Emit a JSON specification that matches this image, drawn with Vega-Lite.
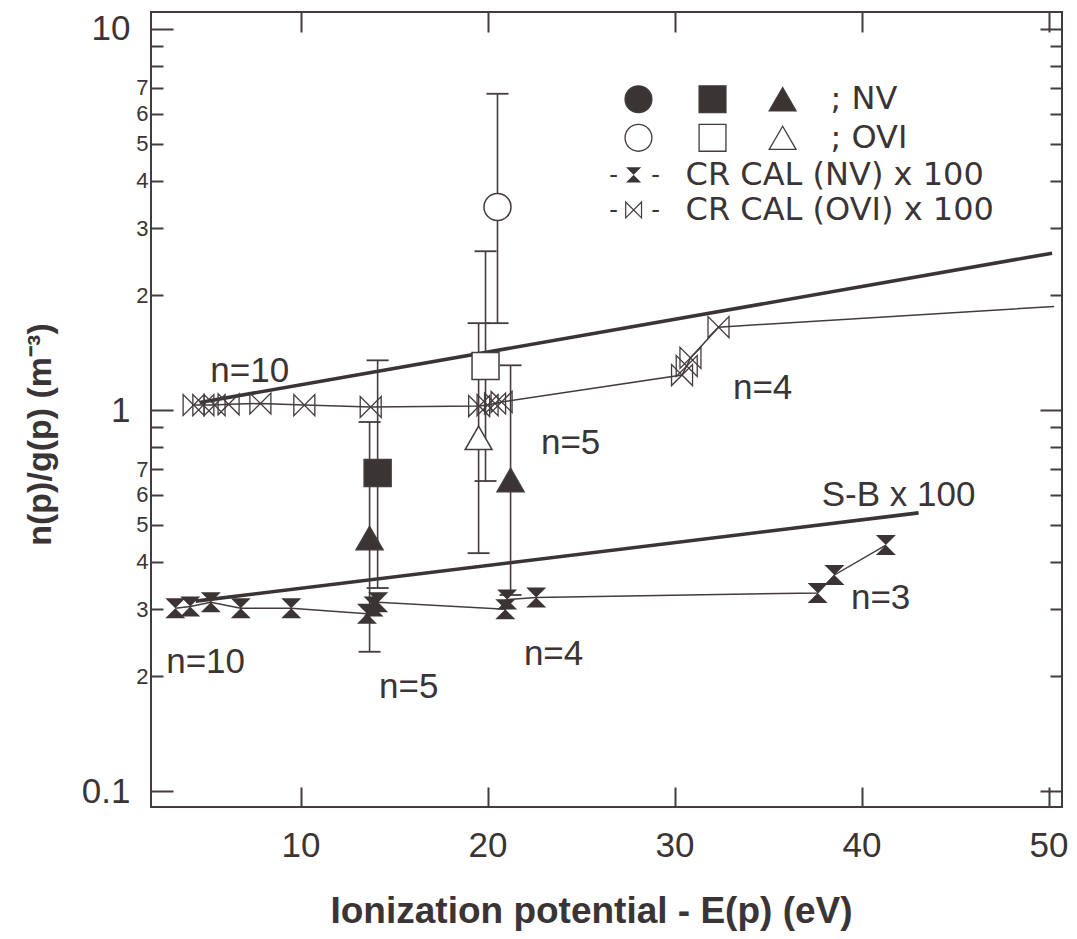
{
  "$schema": "https://vega.github.io/schema/vega-lite/v6.json",
  "width": 911,
  "height": 795,
  "autosize": {"type": "none"},
  "padding": {"left": 151, "top": 12, "right": 15, "bottom": 132},
  "background": "white",
  "config": {
    "view": {"stroke": "#433b3c", "strokeWidth": 2},
    "axis": {"domain": false, "grid": false, "tickColor": "#433b3c", "tickWidth": 2, "labelColor": "#3b3435", "titleColor": "#3b3435", "labelFont": "Liberation Sans", "titleFont": "Liberation Sans", "labelOverlap": false, "labelBound": false, "labelFlush": false},
    "text": {"font": "Liberation Sans", "color": "#3b3435"}
  },
  "datasets": {
    "cr_nv": [
      {"x": 3.3, "y": 0.302}, {"x": 4.1, "y": 0.305}, {"x": 5.2, "y": 0.313}, {"x": 6.8, "y": 0.302},
      {"x": 9.5, "y": 0.302}, {"x": 13.55, "y": 0.292}, {"x": 13.9, "y": 0.305}, {"x": 14.15, "y": 0.313},
      {"x": 20.95, "y": 0.300}, {"x": 21.05, "y": 0.318}, {"x": 22.6, "y": 0.322}, {"x": 37.65, "y": 0.331},
      {"x": 38.55, "y": 0.369}, {"x": 41.3, "y": 0.442}
    ],
    "cr_ovi": [
      {"x": 4.28, "y": 1.031}, {"x": 4.8, "y": 1.03}, {"x": 5.4, "y": 1.03}, {"x": 6.15, "y": 1.035},
      {"x": 7.85, "y": 1.04}, {"x": 10.2, "y": 1.03}, {"x": 13.75, "y": 1.018}, {"x": 19.55, "y": 1.024},
      {"x": 20.0, "y": 1.03}, {"x": 20.4, "y": 1.04}, {"x": 20.75, "y": 1.05}, {"x": 30.4, "y": 1.235},
      {"x": 30.65, "y": 1.305}, {"x": 30.85, "y": 1.37}, {"x": 32.35, "y": 1.65}, {"x": 50.3, "y": 1.87}
    ],
    "theory": [
      {"curve": "upper", "x": 4.6, "y": 1.046}, {"curve": "upper", "x": 50.19, "y": 2.58},
      {"curve": "SB", "x": 4.39, "y": 0.315}, {"curve": "SB", "x": 43.05, "y": 0.537}
    ],
    "exp": [
      {"series": "NV", "kind": "square", "x": 14.12, "y": 0.683, "lo": 0.341, "hi": 1.35},
      {"series": "NV", "kind": "triangle", "x": 13.69, "y": 0.461, "lo": 0.232, "hi": 0.93},
      {"series": "NV", "kind": "triangle", "x": 21.23, "y": 0.655, "lo": 0.327, "hi": 1.31},
      {"series": "OVI", "kind": "circle", "x": 20.53, "y": 3.41, "lo": 1.69, "hi": 6.76},
      {"series": "OVI", "kind": "square", "x": 19.89, "y": 1.305, "lo": 0.651, "hi": 2.61},
      {"series": "OVI", "kind": "triangle", "x": 19.52, "y": 0.845, "lo": 0.421, "hi": 1.69}
    ],
    "legend_sym": [
      {"series": "NV", "kind": "circle", "x": 28.07, "y": 6.54},
      {"series": "NV", "kind": "square", "x": 32.03, "y": 6.54},
      {"series": "NV", "kind": "triangle", "x": 35.78, "y": 6.54},
      {"series": "OVI", "kind": "circle", "x": 28.07, "y": 5.18},
      {"series": "OVI", "kind": "square", "x": 32.03, "y": 5.18},
      {"series": "OVI", "kind": "triangle", "x": 35.78, "y": 5.18}
    ],
    "legend_text": [
      {"x": 38.34, "y": 6.54, "t": "; NV"},
      {"x": 38.34, "y": 5.18, "t": "; OVI"},
      {"x": 30.59, "y": 4.14, "t": "CR CAL (NV) x 100"},
      {"x": 30.59, "y": 3.35, "t": "CR CAL (OVI) x 100"}
    ],
    "dashes": [
      {"x": 26.74, "y": 4.14, "t": "-"},
      {"x": 28.98, "y": 4.14, "t": "-"},
      {"x": 26.74, "y": 3.35, "t": "-"},
      {"x": 28.98, "y": 3.35, "t": "-"}
    ],
    "notes": [
      {"x": 7.28, "y": 1.266, "t": "n=10"},
      {"x": 4.92, "y": 0.218, "t": "n=10"},
      {"x": 15.78, "y": 0.187, "t": "n=5"},
      {"x": 23.53, "y": 0.229, "t": "n=4"},
      {"x": 24.44, "y": 0.819, "t": "n=5"},
      {"x": 34.71, "y": 1.142, "t": "n=4"},
      {"x": 41.02, "y": 0.321, "t": "n=3"},
      {"x": 41.98, "y": 0.598, "t": "S-B x 100"}
    ]
  },
  "resolve": {"axis": {"x": "independent", "y": "independent"}},
  "layer": [
    {
      "data": {"name": "cr_nv"},
      "mark": {"type": "line", "color": "#433b3c", "strokeWidth": 1.5},
      "encoding": {
        "x": {"field": "x", "type": "quantitative", "scale": {"type": "linear", "domain": [2, 50.72], "nice": false, "zero": false},
          "axis": {"orient": "bottom", "values": [10, 20, 30, 40, 50], "tickSize": -20, "labelFontSize": 35, "labelPadding": 41,
            "title": "Ionization potential - E(p) (eV)", "titleFontSize": 37, "titleFontWeight": "bold", "titleX": 440, "titleY": 104, "titleBaseline": "middle"}},
        "y": {"field": "y", "type": "quantitative", "scale": {"type": "log", "domain": [0.0908, 11.08], "nice": false},
          "axis": {"orient": "left",
            "values": [0.1, 0.2, 0.3, 0.4, 0.5, 0.6, 0.7, 0.8, 0.9, 1, 2, 3, 4, 5, 6, 7, 8, 9, 10],
            "tickSize": {"condition": {"test": "datum.value >= 9.99 || (datum.value > 0.99 && datum.value < 1.01) || datum.value < 0.101", "value": -22}, "value": -12},
            "labelFontSize": {"condition": {"test": "datum.value >= 9.99 || (datum.value > 0.99 && datum.value < 1.01) || datum.value < 0.101", "value": 35}, "value": 22},
            "labelPadding": {"condition": {"test": "datum.value >= 9.99 || (datum.value > 0.99 && datum.value < 1.01) || datum.value < 0.101", "value": 43}, "value": 15},
            "labelBaseline": "middle",
            "labelExpr": "datum.value >= 9.99 ? '10' : (datum.value > 0.99 && datum.value < 1.01) ? '1' : datum.value < 0.101 ? '0.1' : (round(datum.value / pow(10, floor(log(datum.value) / LN10 + 1e-9))) <= 7 ? '' + round(datum.value / pow(10, floor(log(datum.value) / LN10 + 1e-9))) : '')",
            "title": "n(p)/g(p) (m⁻³)", "titleFontSize": 34, "titleFontWeight": "bold", "titleX": -111, "titleY": 422, "titleBaseline": "middle", "titleAngle": -90}}
      }
    },
    {
      "data": {"name": "cr_nv"},
      "mark": {"type": "point", "opacity": 0},
      "encoding": {
        "x": {"field": "x", "type": "quantitative", "scale": {"type": "linear", "domain": [2, 50.72], "nice": false, "zero": false},
          "axis": {"orient": "top", "values": [10, 20, 30, 40, 50], "tickSize": -20, "labels": false, "title": null}},
        "y": {"field": "y", "type": "quantitative", "scale": {"type": "log", "domain": [0.0908, 11.08], "nice": false},
          "axis": {"orient": "right",
            "values": [0.1, 0.2, 0.3, 0.4, 0.5, 0.6, 0.7, 0.8, 0.9, 1, 2, 3, 4, 5, 6, 7, 8, 9, 10],
            "tickSize": {"condition": {"test": "datum.value >= 9.99 || (datum.value > 0.99 && datum.value < 1.01) || datum.value < 0.101", "value": -22}, "value": -12},
            "labels": false, "title": null}}
      }
    },
    {
      "data": {"name": "cr_ovi"},
      "mark": {"type": "line", "color": "#433b3c", "strokeWidth": 1.5},
      "encoding": {
        "x": {"field": "x", "type": "quantitative", "scale": {"type": "linear", "domain": [2, 50.72], "nice": false, "zero": false}, "axis": null},
        "y": {"field": "y", "type": "quantitative", "scale": {"type": "log", "domain": [0.0908, 11.08], "nice": false}, "axis": null}
      }
    },
    {
      "data": {"name": "theory"},
      "mark": {"type": "line", "color": "#3b3435", "strokeWidth": 3.6},
      "encoding": {
        "x": {"field": "x", "type": "quantitative", "scale": {"type": "linear", "domain": [2, 50.72], "nice": false, "zero": false}, "axis": null},
        "y": {"field": "y", "type": "quantitative", "scale": {"type": "log", "domain": [0.0908, 11.08], "nice": false}, "axis": null},
        "detail": {"field": "curve"}
      }
    },
    {
      "data": {"name": "exp"},
      "mark": {"type": "rule", "color": "#433b3c", "strokeWidth": 1.6},
      "encoding": {
        "x": {"field": "x", "type": "quantitative", "scale": {"type": "linear", "domain": [2, 50.72], "nice": false, "zero": false}, "axis": null},
        "y": {"field": "lo", "type": "quantitative", "scale": {"type": "log", "domain": [0.0908, 11.08], "nice": false}, "axis": null},
        "y2": {"field": "hi"}
      }
    },
    {
      "data": {"name": "exp"},
      "mark": {"type": "tick", "orient": "horizontal", "color": "#433b3c", "size": 22, "thickness": 1.8, "opacity": 1},
      "encoding": {
        "x": {"field": "x", "type": "quantitative", "scale": {"type": "linear", "domain": [2, 50.72], "nice": false, "zero": false}, "axis": null},
        "y": {"field": "lo", "type": "quantitative", "scale": {"type": "log", "domain": [0.0908, 11.08], "nice": false}, "axis": null}
      }
    },
    {
      "data": {"name": "exp"},
      "mark": {"type": "tick", "orient": "horizontal", "color": "#433b3c", "size": 22, "thickness": 1.8, "opacity": 1},
      "encoding": {
        "x": {"field": "x", "type": "quantitative", "scale": {"type": "linear", "domain": [2, 50.72], "nice": false, "zero": false}, "axis": null},
        "y": {"field": "hi", "type": "quantitative", "scale": {"type": "log", "domain": [0.0908, 11.08], "nice": false}, "axis": null}
      }
    },
    {
      "data": {"name": "cr_nv"},
      "mark": {"type": "point", "shape": "M-1,-1L1,-1L-1,1L1,1Z", "filled": true, "color": "#3b3435", "size": 400, "opacity": 1},
      "encoding": {
        "x": {"field": "x", "type": "quantitative", "scale": {"type": "linear", "domain": [2, 50.72], "nice": false, "zero": false}, "axis": null},
        "y": {"field": "y", "type": "quantitative", "scale": {"type": "log", "domain": [0.0908, 11.08], "nice": false}, "axis": null}
      }
    },
    {
      "data": {"name": "cr_ovi"},
      "transform": [{"filter": "datum.x < 50"}],
      "mark": {"type": "point", "shape": "M-1,-1L-1,1L1,-1L1,1Z", "filled": false, "color": "#433b3c", "strokeWidth": 1.3, "size": 441, "opacity": 1},
      "encoding": {
        "x": {"field": "x", "type": "quantitative", "scale": {"type": "linear", "domain": [2, 50.72], "nice": false, "zero": false}, "axis": null},
        "y": {"field": "y", "type": "quantitative", "scale": {"type": "log", "domain": [0.0908, 11.08], "nice": false}, "axis": null}
      }
    },
    {
      "data": {"name": "exp"},
      "mark": {"type": "point", "filled": true, "stroke": "#433b3c", "strokeWidth": 1.5, "opacity": 1},
      "encoding": {
        "x": {"field": "x", "type": "quantitative", "scale": {"type": "linear", "domain": [2, 50.72], "nice": false, "zero": false}, "axis": null},
        "y": {"field": "y", "type": "quantitative", "scale": {"type": "log", "domain": [0.0908, 11.08], "nice": false}, "axis": null},
        "shape": {"field": "kind", "type": "nominal", "scale": {"domain": ["circle", "square", "triangle"], "range": ["circle", "square", "triangle-up"]}, "legend": null},
        "fill": {"field": "series", "type": "nominal", "scale": {"domain": ["NV", "OVI"], "range": ["#3b3435", "white"]}, "legend": null},
        "size": {"field": "kind", "type": "nominal", "scale": {"domain": ["circle", "square", "triangle"], "range": [730, 720, 660]}, "legend": null}
      }
    },
    {
      "data": {"name": "legend_sym"},
      "mark": {"type": "point", "filled": true, "stroke": "#433b3c", "strokeWidth": 1.3, "opacity": 1},
      "encoding": {
        "x": {"field": "x", "type": "quantitative", "scale": {"type": "linear", "domain": [2, 50.72], "nice": false, "zero": false}, "axis": null},
        "y": {"field": "y", "type": "quantitative", "scale": {"type": "log", "domain": [0.0908, 11.08], "nice": false}, "axis": null},
        "shape": {"field": "kind", "type": "nominal", "scale": {"domain": ["circle", "square", "triangle"], "range": ["circle", "square", "triangle-up"]}, "legend": null},
        "fill": {"field": "series", "type": "nominal", "scale": {"domain": ["NV", "OVI"], "range": ["#3b3435", "white"]}, "legend": null},
        "size": {"field": "series", "type": "nominal", "scale": {"domain": ["NV", "OVI"], "range": [500, 330]}, "legend": null}
      }
    },
    {
      "data": {"values": [{"x": 27.81, "y": 4.14}]},
      "mark": {"type": "point", "shape": "M-1,-1L1,-1L-1,1L1,1Z", "filled": true, "color": "#3b3435", "size": 230, "opacity": 1},
      "encoding": {
        "x": {"field": "x", "type": "quantitative", "scale": {"type": "linear", "domain": [2, 50.72], "nice": false, "zero": false}, "axis": null},
        "y": {"field": "y", "type": "quantitative", "scale": {"type": "log", "domain": [0.0908, 11.08], "nice": false}, "axis": null}
      }
    },
    {
      "data": {"values": [{"x": 27.81, "y": 3.35}]},
      "mark": {"type": "point", "shape": "M-1,-1L-1,1L1,-1L1,1Z", "filled": false, "color": "#433b3c", "strokeWidth": 1.2, "size": 250, "opacity": 1},
      "encoding": {
        "x": {"field": "x", "type": "quantitative", "scale": {"type": "linear", "domain": [2, 50.72], "nice": false, "zero": false}, "axis": null},
        "y": {"field": "y", "type": "quantitative", "scale": {"type": "log", "domain": [0.0908, 11.08], "nice": false}, "axis": null}
      }
    },
    {
      "data": {"name": "legend_text"},
      "mark": {"type": "text", "align": "left", "baseline": "middle", "fontSize": 32, "font": "DejaVu Sans"},
      "encoding": {
        "x": {"field": "x", "type": "quantitative", "scale": {"type": "linear", "domain": [2, 50.72], "nice": false, "zero": false}, "axis": null},
        "y": {"field": "y", "type": "quantitative", "scale": {"type": "log", "domain": [0.0908, 11.08], "nice": false}, "axis": null},
        "text": {"field": "t"}
      }
    },
    {
      "data": {"name": "dashes"},
      "mark": {"type": "text", "align": "center", "baseline": "middle", "fontSize": 26},
      "encoding": {
        "x": {"field": "x", "type": "quantitative", "scale": {"type": "linear", "domain": [2, 50.72], "nice": false, "zero": false}, "axis": null},
        "y": {"field": "y", "type": "quantitative", "scale": {"type": "log", "domain": [0.0908, 11.08], "nice": false}, "axis": null},
        "text": {"field": "t"}
      }
    },
    {
      "data": {"name": "notes"},
      "mark": {"type": "text", "align": "center", "baseline": "middle", "fontSize": 35},
      "encoding": {
        "x": {"field": "x", "type": "quantitative", "scale": {"type": "linear", "domain": [2, 50.72], "nice": false, "zero": false}, "axis": null},
        "y": {"field": "y", "type": "quantitative", "scale": {"type": "log", "domain": [0.0908, 11.08], "nice": false}, "axis": null},
        "text": {"field": "t"}
      }
    }
  ]
}
